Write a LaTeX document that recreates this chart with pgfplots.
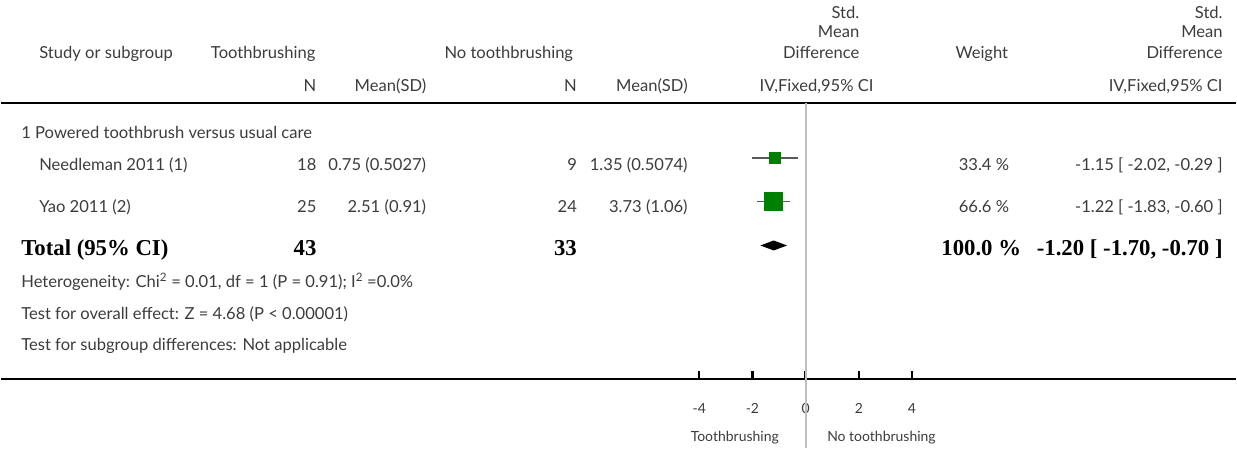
\documentclass[border=0pt]{standalone}
\usepackage{fontspec}
\setmainfont{Lato}
\newfontfamily\bsf{Liberation Serif}
\usepackage{pgfplots}
\pgfplotsset{compat=1.18}
\definecolor{txt}{HTML}{3C3C3C}
\definecolor{sq}{HTML}{008000}
\newcommand\fs{\fontsize{16.6}{18}\selectfont}
\newcommand\bfs{\bsf\bfseries\fontsize{22.8}{24}\selectfont}
\newcommand{\T}[4]{\node[anchor=#1, inner sep=0pt, text=txt, font=\fs] at (axis cs:{(#2-806)/26.65},{449-#3}) {#4};}
\newcommand{\B}[4]{\node[anchor=#1, inner sep=0pt, text=black, font=\bfs] at (axis cs:{(#2-806)/26.65},{449-#3}) {#4};}
\begin{document}
\begin{tikzpicture}
\begin{axis}[
  width=1237pt, height=380pt, scale only axis,
  xmin=-30.24, xmax=16.17, ymin=69, ymax=449,
  axis x line*=bottom, axis y line=none,
  axis line style={line width=2.6pt, -},
  xtick={-4,-2,0,2,4},
  xticklabels={-4,-2,0,2,4},
  tick align=inside, major tick length=8pt,
  tick style={line width=2.4pt, black},
  xticklabel style={font=\fontsize{14}{14}\selectfont, text=txt, yshift=-21pt},
  clip=false,
]
% bounding box
\path (axis cs:-30.24,0) rectangle (axis cs:16.17,449);
% separator lines
\draw[line width=2.5pt] (axis cs:-30.24,346) -- (axis cs:16.17,346);
\draw[color=black!25, line width=2pt] (axis cs:0,346) -- (axis cs:0,0);
% CI lines
\addplot[draw=black!65, line width=1.8pt] coordinates {(-2.02,291) (-0.29,291)};
\addplot[draw=black!65, line width=1.8pt] coordinates {(-1.83,247) (-0.60,247)};
% squares
\addplot[only marks, mark=square*, mark size=5.5pt, color=sq] coordinates {(-1.15,291)};
\addplot[only marks, mark=square*, mark size=9pt, color=sq] coordinates {(-1.22,247)};
\addplot[black, line width=1.5pt] coordinates {(-1.15,287.5) (-1.15,294.5)};
\addplot[black, line width=1.5pt] coordinates {(-1.22,243.5) (-1.22,250.5)};
% diamond
\addplot[fill=black, draw=none] coordinates {(-1.70,203) (-1.20,208) (-0.70,203) (-1.20,198)} -- cycle;
% header
\T{base west}{38}{59}{Study or subgroup}
\T{base west}{210}{59}{Toothbrushing}
\T{base west}{444}{59}{No toothbrushing}
\T{base east}{860}{19}{Std.}
\T{base east}{860}{38}{Mean}
\T{base east}{860}{59}{Difference}
\T{base west}{956}{59}{Weight}
\T{base east}{1224}{19}{Std.}
\T{base east}{1224}{38}{Mean}
\T{base east}{1224}{59}{Difference}
\T{base east}{316}{92}{N}
\T{base east}{426}{92}{Mean(SD)}
\T{base east}{577}{92}{N}
\T{base east}{688}{92}{Mean(SD)}
\T{base}{817}{92}{IV,Fixed,95\% CI}
\T{base east}{1224}{92}{IV,Fixed,95\% CI}
% rows
\T{base west}{20}{139}{1 Powered toothbrush versus usual care}
\T{base west}{38}{171}{Needleman 2011 (1)}
\T{base east}{316}{171}{18}
\T{base east}{426}{171}{0.75 (0.5027)}
\T{base east}{577}{171}{9}
\T{base east}{688}{171}{1.35 (0.5074)}
\T{base east}{1010}{171}{33.4 \%}
\T{base east}{1224}{171}{-1.15 [ -2.02, -0.29 ]}
\T{base west}{38}{213}{Yao 2011 (2)}
\T{base east}{316}{213}{25}
\T{base east}{426}{213}{2.51 (0.91)}
\T{base east}{577}{213}{24}
\T{base east}{688}{213}{3.73 (1.06)}
\T{base east}{1010}{213}{66.6 \%}
\T{base east}{1224}{213}{-1.22 [ -1.83, -0.60 ]}
\B{base west}{20}{256}{Total (95\% CI)}
\B{base east}{316}{256}{43}
\B{base east}{577}{256}{33}
\B{base east}{1022}{256}{100.0 \%}
\B{base east}{1224}{256}{-1.20 [ -1.70, -0.70 ]}
\T{base west}{20}{288}{Heterogeneity: Chi\textsuperscript{2} = 0.01, df = 1 (P = 0.91); I\textsuperscript{2} =0.0\%}
\T{base west}{20}{320}{Test for overall effect: Z = 4.68 (P < 0.00001)}
\T{base west}{20}{351}{Test for subgroup differences: Not applicable}
% bottom labels
\node[anchor=base, inner sep=0pt, text=txt, font=\fontsize{14}{14}\selectfont] at (axis cs:{(735-806)/26.65},{449-442}) {Toothbrushing};
\node[anchor=base, inner sep=0pt, text=txt, font=\fontsize{14}{14}\selectfont] at (axis cs:{(882-806)/26.65},{449-442}) {No toothbrushing};
\end{axis}
\end{tikzpicture}
\end{document}
